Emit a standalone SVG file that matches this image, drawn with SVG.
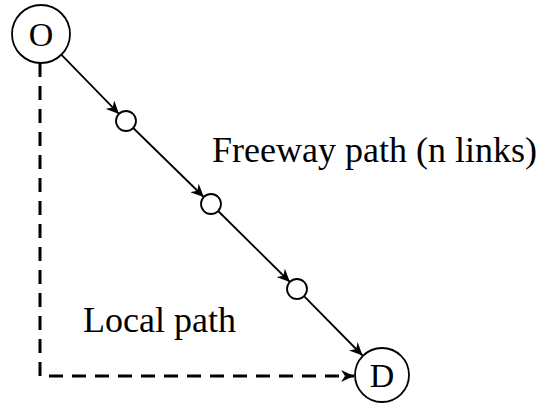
<svg xmlns="http://www.w3.org/2000/svg" width="542" height="404" viewBox="0 0 542 404">
  <style>
    .node { fill: #fff; stroke: #000; stroke-width: 1.8; }
    .label { font-family: "Liberation Serif", "Times New Roman", serif; fill: #000; }
    .link { stroke: #000; stroke-width: 1.8; fill: none; marker-end: url(#arrow); }
    .local { stroke: #000; stroke-width: 3; fill: none; stroke-dasharray: 14 9; marker-end: url(#arrow); }
  </style>
  <defs>
    <marker id="arrow" markerUnits="userSpaceOnUse" markerWidth="14" markerHeight="12" viewBox="0 0 14 12" refX="13" refY="6" orient="auto">
      <path d="M0,0 L13,6 L0,12 L4,6 Z" fill="#000"/>
    </marker>
  </defs>

  <g id="connectors">
    <path class="local" d="M40,63 V376 H354"/>
    <line class="link" x1="61.3" y1="54.7" x2="119" y2="113.9"/>
    <line class="link" x1="133.2" y1="128" x2="203.8" y2="197"/>
    <line class="link" x1="218.1" y1="211" x2="289.9" y2="282"/>
    <line class="link" x1="304" y1="296.1" x2="362.5" y2="355.5"/>
  </g>

  <g id="node-O">
    <circle class="node" cx="41" cy="34" r="29"/>
    <text class="label" x="41" y="46" font-size="34" text-anchor="middle">O</text>
  </g>
  <g id="node-1">
    <circle class="node" cx="126" cy="121" r="10"/>
  </g>
  <g id="node-2">
    <circle class="node" cx="211" cy="204" r="10"/>
  </g>
  <g id="node-3">
    <circle class="node" cx="297" cy="289" r="10"/>
  </g>
  <g id="node-D">
    <circle class="node" cx="382" cy="375" r="27"/>
    <text class="label" x="382" y="387" font-size="34" text-anchor="middle">D</text>
  </g>

  <text class="label" x="212" y="162" font-size="36">Freeway path (n links)</text>
  <text class="label" x="83" y="332" font-size="36">Local path</text>
</svg>
